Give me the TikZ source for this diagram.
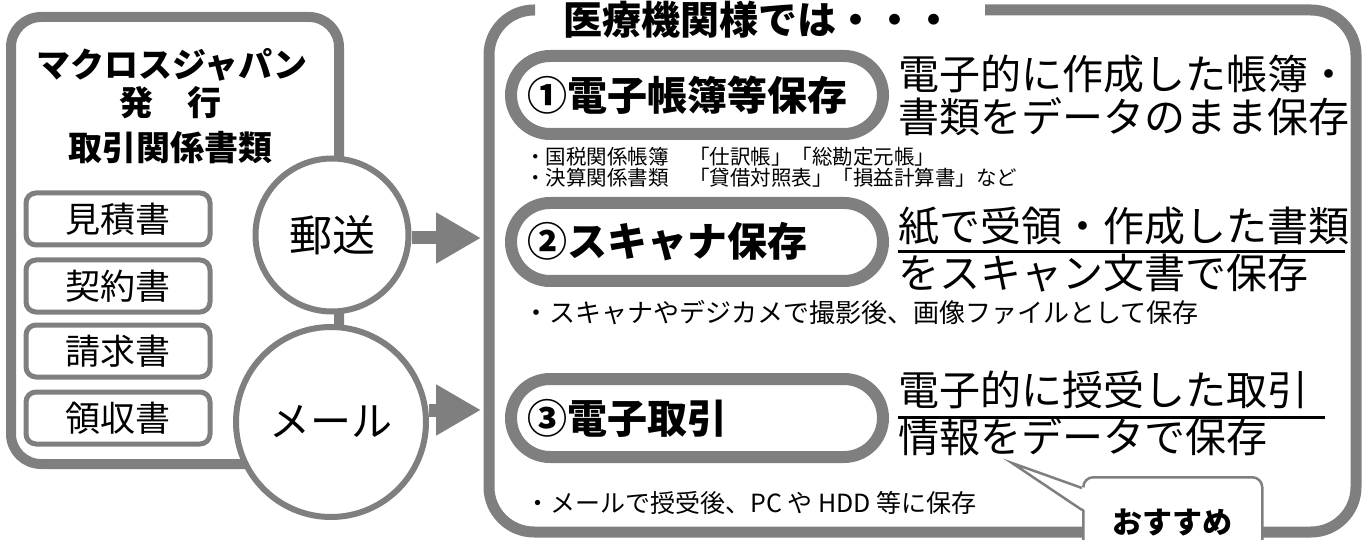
\documentclass[tikz,border=0pt]{standalone}
\usepackage{fontspec}
\setmainfont{Noto Sans CJK JP}
\usetikzlibrary{arrows.meta}
\definecolor{frame}{RGB}{127,127,127}
\newcommand\fsz[1]{\fontsize{#1pt}{#1pt}\selectfont}

\begin{document}
\begin{tikzpicture}[x=1pt,y=-1pt,
  box/.style={draw=frame,line width=10pt,rounded corners=30pt},
  title/.style={inner sep=0pt,anchor=base,font=\bfseries\fsz{34}},
  doc/.style={draw=frame,line width=5pt,rounded corners=10pt,fill=white,minimum width=184pt,minimum height=52pt,inner sep=0pt,font=\fsz{35}},
  route/.style={circle,draw=frame,line width=6pt,fill=white,inner sep=0pt},
  pill/.style={draw=frame,line width=12pt,rounded corners=39pt,minimum height=78pt,text width=340pt,inner xsep=16pt,inner ysep=0pt,align=left,anchor=west,font=\bfseries\fsz{40}},
  bigarrow/.style={draw=frame,line width=13pt,-{Triangle[length=45pt,width=48pt]}},
  txt/.style={inner sep=0pt,anchor=base west},
  desc/.style={txt,font=\fsz{41}},
  uline/.style={line width=3pt}]
\useasboundingbox (0,0) rectangle (1366,540);

% sender side
\draw[box] (11,17) rectangle (339,464);
\node[title] (mk) at (172,78) {マクロスジャパン};
\node[title] (hk) at (170,116) {発　行};
\node[title] (tr) at (170,161) {取引関係書類};
\node[doc] (d1) at (118,219) {見積書};
\node[doc] (d2) at (118,286) {契約書};
\node[doc] (d3) at (118,351) {請求書};
\node[doc] (d4) at (118,418) {領収書};

% routes
\node[route,minimum size=153pt,font=\fsz{43}] (post) at (332,235) {郵送};
\node[route,minimum size=190pt,font=\fsz{41}] (mail) at (331,422) {メール};
\coordinate (in1) at (481,238);
\coordinate (in2) at (481,410);
\draw[bigarrow] (post.east |- in1) -- (in1);
\draw[bigarrow] (mail.east |- in2) -- (in2);

% receiver side
\draw[draw=frame,line width=11pt,rounded corners=45pt] (535,10) -- (489,10) -- (489,532) -- (1356,532) -- (1356,10) -- (985,10);
\node[txt,font=\bfseries\fsz{39}] (hd) at (563,35) {医療機関様では・・・};

\node[pill] (p1) at (505,95) {①電子帳簿等保存};
\node[pill] (p2) at (505,242) {②スキャナ保存};
\node[pill] (p3) at (505,418) {③電子取引};

\node[desc] (e1a) at (898,90) {電子的に作成した帳簿・};
\node[desc] (e1b) at (898,133) {書類をデータのまま保存};
\node[desc] (e2a) at (898,242) {紙で受領・作成した書類};
\node[desc] (e2b) at (898,289) {をスキャン文書で保存};
\node[desc] (e3a) at (898,405) {電子的に授受した取引};
\node[desc] (e3b) at (898,452) {情報をデータで保存};
\draw[uline] ([yshift=-10pt]e2a.base west) -- ++(447,0);
\draw[uline] ([yshift=-12pt]e3a.base west) -- ++(427,0);

\node[txt,font=\fsz{20.5}] (n1) at (525,165) {・国税関係帳簿　「仕訳帳」「総勘定元帳」};
\node[txt,font=\fsz{20.5}] (n2) at (525,186) {・決算関係書類　「貸借対照表」「損益計算書」など};
\node[txt,font=\fsz{26}] (n3) at (523,323) {・スキャナやデジカメで撮影後、画像ファイルとして保存};
\node[txt,font=\fsz{25}] (n4) at (525,512) {・メールで授受後、PC や HDD 等に保存};

% recommendation
\node[draw=frame,line width=2.5pt,fill=white,rounded corners=10pt,minimum width=179pt,minimum height=83pt,anchor=north west,inner sep=0pt] (rec) at (1082,476) {};
\coordinate (tip) at (1012,463);
\fill[white] ([xshift=3pt,yshift=-12pt]rec.north west) -- (tip) -- ([xshift=3pt,yshift=-34pt]rec.north west) -- cycle;
\draw[draw=frame,line width=2.5pt] ([yshift=-12pt]rec.north west) -- (tip) -- ([yshift=-34pt]rec.north west);
\node[inner sep=0pt,anchor=base,font=\bfseries\fsz{30}] (osu) at (1172,533) {おすすめ};
\end{tikzpicture}
\end{document}
